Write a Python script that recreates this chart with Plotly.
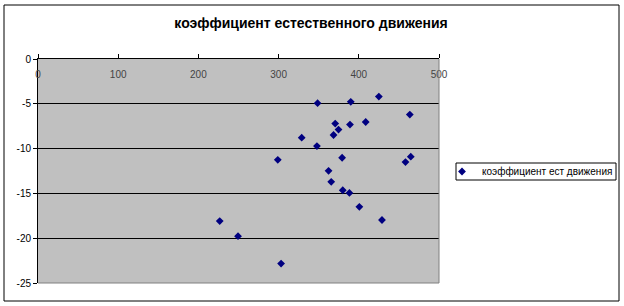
import plotly.graph_objects as go

series_name = "коэффициент ест движения"
title_text = "коэффициент естественного движения"
x_vals = [348.6, 390, 425, 463.6, 370.6, 389, 408.6, 374.7, 368.5, 328.8, 347.8, 299,
          379.2, 458.2, 464.8, 362.3, 365.6, 380, 388.3, 400.7, 428.9, 226.6, 249.4, 303.1]
y_vals = [-4.93, -4.78, -4.19, -6.2, -7.21, -7.32, -7.03, -7.88, -8.48, -8.78, -9.72, -11.25,
          -11.02, -11.5, -10.9, -12.48, -13.71, -14.65, -14.95, -16.5, -17.97, -18.09, -19.77, -22.83]
x_ticks = [0, 100, 200, 300, 400, 500]
y_ticks = [0, -5, -10, -15, -20, -25]

fig = go.Figure()
fig.add_trace(go.Scatter(
    x=x_vals, y=y_vals, mode="markers", name=series_name,
    marker=dict(symbol="diamond", size=6, color="#000080"),
    showlegend=True,
))

L, R, T, B = 38, 185, 59, 23
W, H = 624, 306
pw, ph = W - L - R, H - T - B

def px_x(p):
    return (p - L) / pw

def px_y(p):
    return (H - B - p) / ph

fig.update_layout(
    width=W, height=H,
    margin=dict(l=L, r=R, t=T, b=B, pad=0, autoexpand=False),
    paper_bgcolor="white",
    plot_bgcolor="#C0C0C0",
    font=dict(family="Liberation Sans, Arial", size=10, color="black"),
    title=dict(text="<b>" + title_text + "</b>", x=311 / W, xref="container", xanchor="center",
               y=1 - 23.5 / H, yref="container", yanchor="middle",
               font=dict(size=14, family="Liberation Sans, Arial", color="black")),
    showlegend=True,
    legend=dict(x=px_x(442), y=px_y(171.5), xanchor="left", yanchor="middle",
                borderwidth=0, bgcolor="rgba(0,0,0,0)",
                font=dict(size=10), itemsizing="trace", itemwidth=30),
    xaxis=dict(range=[0, 500], tickvals=x_ticks, ticktext=[str(v) for v in x_ticks],
               side="top", ticks="outside", ticklen=4, tickcolor="black",
               ticklabelposition="inside", ticklabeloverflow="allow", ticklabelstandoff=11,
               showgrid=False, zeroline=False,
               showline=True, linecolor="black", linewidth=1, mirror=False),
    yaxis=dict(range=[-25, 0], tickvals=y_ticks, ticktext=[str(v) for v in y_ticks],
               ticks="outside", ticklen=4, tickcolor="black", ticklabeloverflow="allow",
               showgrid=True, gridcolor="black", gridwidth=1, zeroline=False,
               showline=True, linecolor="black", linewidth=1),
    shapes=[
        dict(type="rect", xref="paper", yref="paper",
             x0=px_x(4), x1=px_x(619), y0=px_y(301), y1=px_y(5),
             line=dict(color="black", width=1), fillcolor="rgba(0,0,0,0)", layer="below"),
        dict(type="rect", xref="paper", yref="paper",
             x0=px_x(456), x1=px_x(616), y0=px_y(180), y1=px_y(163),
             line=dict(color="black", width=1), fillcolor="white", layer="below"),
        dict(type="line", xref="paper", yref="paper", x0=1, x1=1, y0=0, y1=1,
             line=dict(color="#808080", width=1)),
        dict(type="line", xref="paper", yref="paper", x0=0, x1=1, y0=0, y1=0,
             line=dict(color="#808080", width=1)),
    ],
)

fig.write_html("out.html")
